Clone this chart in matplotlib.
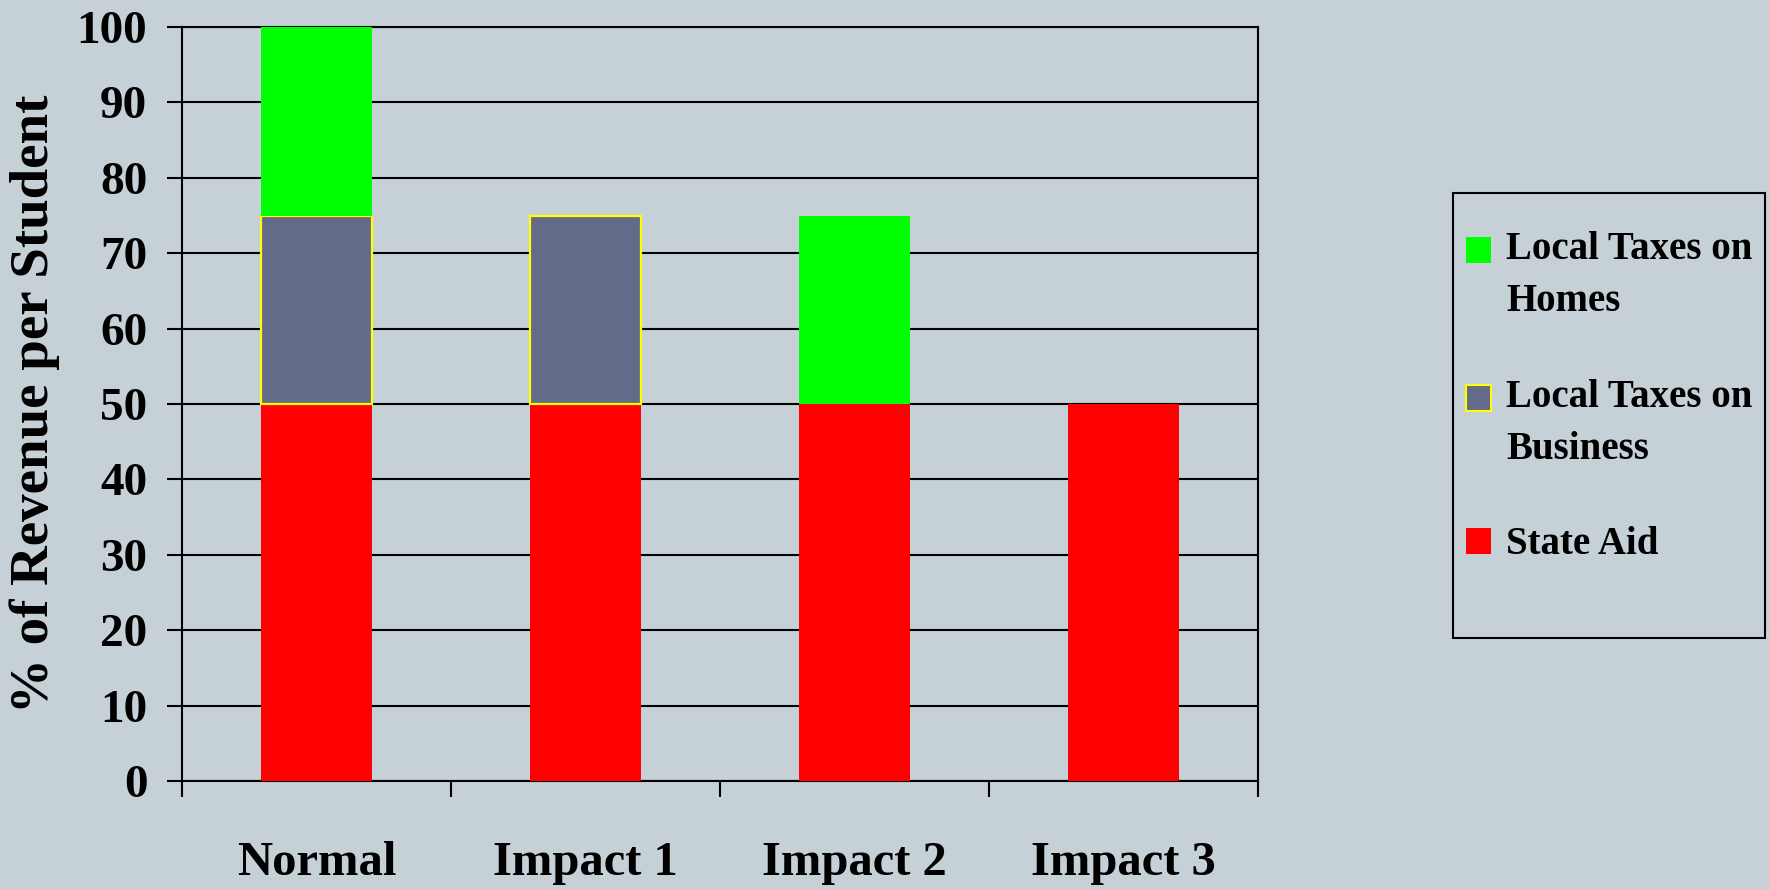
import matplotlib
matplotlib.use('Agg')
import matplotlib.pyplot as plt
import numpy as np
from matplotlib.patches import Rectangle, Patch
from matplotlib.legend_handler import HandlerPatch

categories = ['Normal', 'Impact 1', 'Impact 2', 'Impact 3']
state_aid = [50, 50, 50, 50]
business = [25, 25, 0, 0]
homes = [25, 0, 25, 0]
y_ticks = [0, 10, 20, 30, 40, 50, 60, 70, 80, 90, 100]
series_labels = ['Local Taxes on\nHomes', 'Local Taxes on\nBusiness', 'State Aid']

BG = '#c5d0d7'
RED = '#ff0000'
GRAY = '#646b88'
GREEN = '#00ff00'
YELLOW = '#ffff00'
FONT = 'Liberation Serif'

plt.rcParams['font.family'] = [FONT, 'DejaVu Serif']
plt.rcParams['font.weight'] = 'bold'

fig = plt.figure(figsize=(17.69, 8.89), dpi=100, facecolor=BG)
ax = fig.add_axes([182/1769, 1-781/889, (1258-182)/1769, (781-27)/889])
ax.set_facecolor(BG)

x = np.arange(len(categories))
w = 0.415
sa = np.array(state_aid, float)
bu = np.array(business, float)
ho = np.array(homes, float)

ax.bar(x, sa, width=w, color=RED, linewidth=0, zorder=3)
ax.bar(x, bu, width=w, bottom=sa, color=GRAY, edgecolor=YELLOW,
       linewidth=[1.6 if v > 0 else 0 for v in bu], zorder=3)
ax.bar(x, ho, width=w, bottom=sa + bu, color=GREEN, linewidth=0, zorder=3)

ax.set_xlim(-0.5, len(categories) - 0.5)
ax.set_ylim(0, 100)
ax.set_yticks(y_ticks)
ax.set_yticklabels([str(t) for t in y_ticks], fontsize=34, fontweight='bold')
ax.set_xticks(np.arange(-0.5, len(categories)))
ax.set_xticklabels([])
ax.set_xticks(x, minor=True)
ax.set_xticklabels(categories, minor=True, fontsize=35, fontweight='bold')
ax.tick_params(axis='x', which='major', direction='out', length=11.5, width=1.5, color='black')
ax.tick_params(axis='x', which='minor', length=0, pad=43)
ax.tick_params(axis='y', direction='out', length=11, width=1.5, pad=14)

ax.grid(axis='y', color='black', linewidth=1.5, zorder=1)
ax.set_axisbelow(True)
for s in ax.spines.values():
    s.set_color('black')
    s.set_linewidth(1.5)

ax.set_ylabel('% of Revenue per Student', fontsize=39.5, fontweight='bold')
ax.yaxis.set_label_coords(-0.113, 0.5)


def make_handler(offset):
    def f(legend, orig_handle, xdescent, ydescent, width, height, fontsize):
        return Rectangle((-xdescent, -ydescent + offset), width, height)
    return HandlerPatch(patch_func=f)

h_homes = Patch(facecolor=GREEN, edgecolor='none')
h_bus = Patch(facecolor=GRAY, edgecolor=YELLOW, linewidth=1.5)
h_sa = Patch(facecolor=RED, edgecolor='none')
off = 18.5
leg = fig.legend([h_homes, h_bus, h_sa], series_labels,
                 loc='upper left', bbox_to_anchor=(1466/1769, 1 - 231/889),
                 frameon=False, borderpad=0, borderaxespad=0,
                 prop={'family': FONT, 'weight': 'bold', 'size': 28},
                 handlelength=0.64, handleheight=0.64, handletextpad=0.4,
                 labelspacing=1.5,
                 handler_map={h_homes: make_handler(off), h_bus: make_handler(off),
                              h_sa: make_handler(0)})
for t in leg.get_texts():
    t.set_linespacing(1.55)

fig.patches.append(Rectangle((1453/1769, 1 - 638/889), (1765-1453)/1769, (638-193)/889,
                             transform=fig.transFigure, fill=False,
                             edgecolor='black', linewidth=1.5))

fig.savefig('out.png', dpi=100, facecolor=BG)
